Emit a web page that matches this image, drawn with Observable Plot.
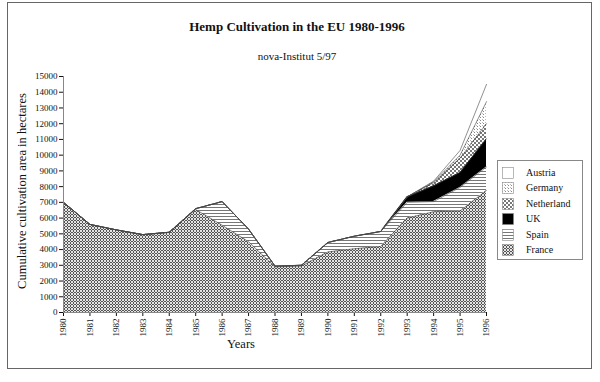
<!DOCTYPE html>
<html><head><meta charset="utf-8">
<script src="https://cdn.jsdelivr.net/npm/d3@7"></script>
<script src="https://cdn.jsdelivr.net/npm/@observablehq/plot@0.6"></script>
<style>
body{margin:0;background:#fff;font-family:"Liberation Serif","Times New Roman",serif;color:#111;}
#wrap{position:relative;width:600px;height:382px;overflow:hidden;}
#frame{position:absolute;left:7px;top:2px;width:585px;height:367px;border:1px solid #666;box-sizing:border-box;}
.t{position:absolute;white-space:nowrap;}
#title{left:0;width:594px;top:19px;text-align:center;font-weight:bold;font-size:13px;}
#sub{left:0;width:594px;top:50px;text-align:center;font-size:11px;}
#ylab{left:22px;top:191px;font-size:12.5px;transform:translate(-50%,-50%) rotate(-90deg);}
#xlab{left:241px;top:344px;font-size:12.5px;transform:translate(-50%,-50%);}
#legend{position:absolute;left:497px;top:160px;width:86px;height:100px;border:1px solid #888;box-sizing:border-box;background:#fff;}
.li{position:absolute;left:4px;height:12px;font-size:10px;line-height:12px;}
.li svg{position:absolute;left:0;top:0;}
.li span{position:absolute;left:24px;top:0;}
#chart{position:absolute;left:0;top:0;}
pattern rect{shape-rendering:crispEdges;}
</style></head><body>
<svg width="0" height="0" style="position:absolute">
<defs>
<pattern id="p-france" width="3" height="3" patternUnits="userSpaceOnUse">
<rect width="3" height="3" fill="#e4e4e4"/><rect x="1" y="0" width="1" height="1" fill="#555"/><rect x="0" y="1" width="1" height="1" fill="#555"/><rect x="2" y="1" width="1" height="1" fill="#555"/><rect x="1" y="2" width="1" height="1" fill="#555"/>
</pattern>
<pattern id="p-spain" width="4" height="3" patternUnits="userSpaceOnUse">
<rect width="4" height="3" fill="#fff"/><rect x="0" y="0" width="4" height="1" fill="#777"/>
</pattern>
<pattern id="p-uk" width="4" height="4" patternUnits="userSpaceOnUse">
<rect width="4" height="4" fill="#000"/>
</pattern>
<pattern id="p-neth" width="4" height="4" patternUnits="userSpaceOnUse">
<rect width="4" height="4" fill="#fff"/><rect x="0" y="0" width="2" height="2" fill="#777"/><rect x="2" y="2" width="2" height="2" fill="#777"/>
</pattern>
<pattern id="p-germany" width="3" height="3" patternUnits="userSpaceOnUse">
<rect width="3" height="3" fill="#fff"/><rect x="0" y="0" width="1" height="1" fill="#888"/><rect x="2" y="2" width="1" height="1" fill="#bbb"/>
</pattern>
<pattern id="p-austria" width="4" height="4" patternUnits="userSpaceOnUse">
<rect width="4" height="4" fill="#fff"/>
</pattern>
</defs>
</svg>
<div id="wrap">
<div id="frame"></div>
<div id="chart"></div>
<div class="t" id="title">Hemp Cultivation in the EU 1980-1996</div>
<div class="t" id="sub">nova-Institut 5/97</div>
<div class="t" id="ylab">Cumulative cultivation area in hectares</div>
<div class="t" id="xlab">Years</div>
<div id="legend"></div>
</div>
<script>
const years = [1980,1981,1982,1983,1984,1985,1986,1987,1988,1989,1990,1991,1992,1993,1994,1995,1996];
const france     = [7000,5600,5250,4950,5100,6550,5550,4500,2900,2950,3850,4050,4200,6000,6400,6450,7750];
const spain      = [0,0,0,0,0,50,1500,800,50,50,600,800,950,1000,650,1500,1500];
const uk         = [0,0,0,0,0,0,0,0,0,0,0,0,0,350,1000,950,1800];
const netherland = [0,0,0,0,0,0,0,0,0,0,0,0,0,0,200,900,950];
const germany    = [0,0,0,0,0,0,0,0,0,0,0,0,0,0,50,200,1400];
const austria    = [0,0,0,0,0,0,0,0,0,0,0,0,0,0,50,300,1100];
const stackOrder = ["France","Spain","UK","Netherland","Germany","Austria"];
const legendOrder = ["Austria","Germany","Netherland","UK","Spain","France"];
const yTicks = [0,1000,2000,3000,4000,5000,6000,7000,8000,9000,10000,11000,12000,13000,14000,15000];
const fills = {France:"url(#p-france)",Spain:"url(#p-spain)",UK:"url(#p-uk)",Netherland:"url(#p-neth)",Germany:"url(#p-germany)",Austria:"url(#p-austria)"};

const series = {France:france,Spain:spain,UK:uk,Netherland:netherland,Germany:germany,Austria:austria};
const table = [];
for (const c of stackOrder) years.forEach((yr,i)=>table.push({year:yr,country:c,value:series[c][i]}));

const chart = Plot.plot({
  width:600, height:382,
  marginTop:76, marginBottom:70, marginLeft:63, marginRight:114,
  style:{fontFamily:"Liberation Serif, Times New Roman, serif", fontSize:"9px", background:"transparent", color:"#111"},
  x:{domain:[1980,1996], ticks:years, tickFormat:"d", tickRotate:-90, tickSize:4, tickPadding:2, label:null},
  y:{domain:[0,15000], ticks:yTicks, tickFormat:"d", tickSize:4, tickPadding:2, label:null},
  color:{domain:stackOrder, range:stackOrder.map(c=>fills[c])},
  marks:[
    Plot.areaY(table, {x:"year", y:"value", z:"country", fill:"country", order:stackOrder}),
    Plot.lineY(table, Plot.stackY2({x:"year", y:"value", z:"country", order:stackOrder, stroke:"#444", strokeWidth:0.6})),
    Plot.ruleX([1980], {stroke:"#888", strokeWidth:1}),
    Plot.ruleY([0], {stroke:"#888", strokeWidth:1})
  ]
});
document.getElementById("chart").appendChild(chart);

const lg = document.getElementById("legend");
legendOrder.forEach((c,i)=>{
  const d = document.createElement("div");
  d.className = "li";
  d.style.top = (6 + i*15.4) + "px";
  d.innerHTML = `<svg width="12" height="12"><rect x="0.5" y="0.5" width="11" height="11" fill="${fills[c]}" stroke="#888" stroke-width="0.6"/></svg><span>${c}</span>`;
  lg.appendChild(d);
});
</script>
</body></html>
